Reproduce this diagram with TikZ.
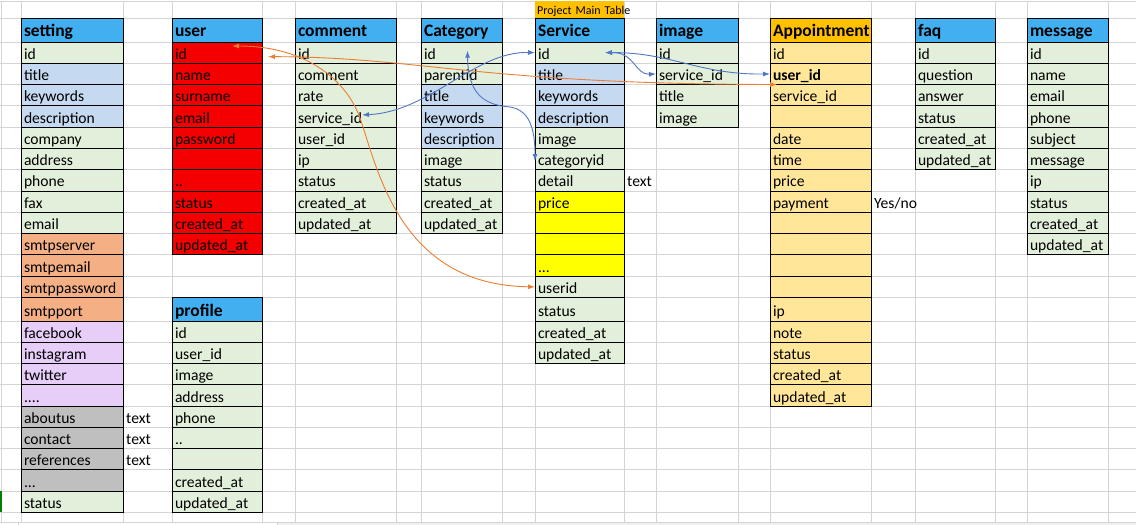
\documentclass[tikz,border=0pt]{standalone}
\usepackage{fontspec}
\setmainfont{Carlito}
\usetikzlibrary{arrows.meta, calc, positioning}

\definecolor{hdrblue}{RGB}{65,175,240}
\definecolor{apphead}{RGB}{255,192,0}
\definecolor{appfield}{RGB}{255,230,153}
\definecolor{fldgreen}{RGB}{226,239,218}
\definecolor{fldblue}{RGB}{197,217,240}
\definecolor{smtporange}{RGB}{244,176,132}
\definecolor{socialpurple}{RGB}{230,206,248}
\definecolor{aboutgray}{RGB}{191,191,191}
\definecolor{userred}{RGB}{245,0,0}
\definecolor{priceyellow}{RGB}{255,255,0}
\definecolor{gridgray}{RGB}{212,212,212}
\definecolor{linkorange}{RGB}{237,125,49}
\definecolor{linkblue}{RGB}{80,120,200}

\newcommand{\fieldfont}{\fontsize{15.6}{18}\selectfont}
\newcommand{\headfont}{\fontsize{17.5}{20}\selectfont\bfseries}
\newcommand{\twodots}{..}
\newcommand{\threedots}{...}
\newcommand{\fourdots}{....}
\hyphenpenalty=10000

% top edge of every sheet row (pixels)
\def\rowtop{{1,18,42,63.3,84.5,105.8,127,148.4,169.6,190.9,212.2,233.4,254.7,276,297.7,321.3,342.4,363.5,384.7,405.9,427.1,448.6,469.8,491,512.3,522.5}}

\tikzset{
  cell/.style={draw=black, line width=0.8pt, anchor=north west, inner xsep=3pt, inner ysep=0pt,
    outer sep=0pt, align=left, text height=16pt, text depth=2.6pt, font=\fieldfont},
  note/.style={font=\fieldfont, anchor=base west, inner sep=0pt},
  gridline/.style={gridgray, line width=0.8pt},
  link/.style={line width=0.9pt, <->, >={Latex[length=7pt,width=5pt]}}
}

% one table: prefix, left x, width, header row, header text, header colour, fields
\newcommand{\dbtable}[7]{%
  \pgfmathsetmacro{\tw}{#3-6}
  \pgfmathsetmacro{\yt}{\rowtop[#4]}
  \pgfmathtruncatemacro{\rn}{#4+1}
  \pgfmathsetmacro{\hh}{\rowtop[\rn]-\yt}
  \node[cell, font=\headfont, fill=#6, text width=\tw pt, minimum height=\hh pt] (#1-head) at (#2,\yt) {#5};
  \foreach \nm/\lb/\cl [count=\i] in {#7} {
    \pgfmathtruncatemacro{\r}{#4+\i}
    \pgfmathtruncatemacro{\rn}{\r+1}
    \pgfmathsetmacro{\yt}{\rowtop[\r]}
    \pgfmathsetmacro{\hh}{\rowtop[\rn]-\yt}
    \node[cell, fill=\cl, text width=\tw pt, minimum height=\hh pt] (#1-\nm) at (#2,\yt) {\lb};
  }}

\begin{document}
\begin{tikzpicture}[x=1pt,y=-1pt]
\useasboundingbox (0,0) rectangle (1136,525);
\fill[white] (0,0) rectangle (1136,525);

% Sheet grid
\foreach \gx in {1,21,123,172,262,295,396,421,502,535,624,656,738,770,871,915,995,1027,1108}
  \draw[gridline] (\gx,1) -- (\gx,522.5);
\foreach \r in {0,1,2,3,4,5,6,7,8,9,10,11,12,13,14,15,16,17,18,19,20,21,22,23,24,25} {
  \pgfmathsetmacro{\gy}{\rowtop[\r]}
  \draw[gridline] (0,\gy) -- (1136,\gy);
}
\fill[black!6] (277,522.5) rectangle (1136,525);
\draw[gridline] (18,522.5) rectangle (277,526);
\draw[green!50!black, line width=1.2pt] (1,491) -- (1,512.3);

% Tables
\dbtable{set}{21}{102}{1}{setting}{hdrblue}{id/id/fldgreen, title/title/fldblue, keywords/keywords/fldblue,
  description/description/fldblue, company/company/fldgreen, address/address/fldgreen, phone/phone/fldgreen,
  fax/fax/fldgreen, email/email/fldgreen, smtpserver/smtpserver/smtporange, smtpemail/smtpemail/smtporange,
  smtppassword/smtppassword/smtporange, smtpport/smtpport/smtporange, facebook/facebook/socialpurple,
  instagram/instagram/socialpurple, twitter/twitter/socialpurple, social/\fourdots/socialpurple,
  aboutus/aboutus/aboutgray, contact/contact/aboutgray, references/references/aboutgray,
  pages/\threedots/aboutgray, status/status/fldgreen}
\dbtable{user}{172}{90}{1}{user}{hdrblue}{id/id/userred, name/name/userred, surname/surname/userred,
  email/email/userred, password/password/userred, blank/{}/userred, more/\twodots/userred, status/status/userred,
  created/created\_at/userred, updated/updated\_at/userred}
\dbtable{prof}{172}{90}{14}{profile}{hdrblue}{id/id/fldgreen, userid/user\_id/fldgreen, image/image/fldgreen,
  address/address/fldgreen, phone/phone/fldgreen, more/\twodots/fldgreen, blank/{}/fldgreen,
  created/created\_at/fldgreen, updated/updated\_at/fldgreen}
\dbtable{comm}{295}{101}{1}{comment}{hdrblue}{id/id/fldgreen, comment/comment/fldgreen, rate/rate/fldgreen,
  serviceid/service\_id/fldgreen, userid/user\_id/fldgreen, ip/ip/fldgreen, status/status/fldgreen,
  created/created\_at/fldgreen, updated/updated\_at/fldgreen}
\dbtable{cat}{421}{81}{1}{Category}{hdrblue}{id/id/fldgreen, parentid/parentid/fldgreen, title/title/fldblue,
  keywords/keywords/fldblue, description/description/fldblue, image/image/fldgreen, status/status/fldgreen,
  created/created\_at/fldgreen, updated/updated\_at/fldgreen}
\dbtable{svc}{535}{89}{1}{Service}{hdrblue}{id/id/fldgreen, title/title/fldblue, keywords/keywords/fldblue,
  description/description/fldblue, image/image/fldgreen, categoryid/categoryid/fldgreen, detail/detail/fldgreen,
  price/price/priceyellow, blanka/{}/priceyellow, blankb/{}/priceyellow, more/\threedots/priceyellow,
  userid/userid/fldgreen, status/status/fldgreen, created/created\_at/fldgreen, updated/updated\_at/fldgreen}
\dbtable{img}{656}{82}{1}{image}{hdrblue}{id/id/fldgreen, serviceid/service\_id/fldgreen, title/title/fldgreen,
  image/image/fldgreen}
\dbtable{app}{770}{101}{1}{Appointment}{apphead}{id/id/appfield, userid/{\textbf{user\_id}}/appfield,
  serviceid/service\_id/appfield, blanka/{}/appfield, date/date/appfield, time/time/appfield, price/price/appfield,
  payment/payment/appfield, blankb/{}/appfield, blankc/{}/appfield, blankd/{}/appfield, blanke/{}/appfield,
  ip/ip/appfield, note/note/appfield, status/status/appfield, created/created\_at/appfield,
  updated/updated\_at/appfield}
\dbtable{faq}{915}{80}{1}{faq}{hdrblue}{id/id/fldgreen, question/question/fldgreen, answer/answer/fldgreen,
  status/status/fldgreen, created/created\_at/fldgreen, updated/updated\_at/fldgreen}
\dbtable{msg}{1027}{81}{1}{message}{hdrblue}{id/id/fldgreen, name/name/fldgreen, email/email/fldgreen,
  phone/phone/fldgreen, subject/subject/fldgreen, message/message/fldgreen, ip/ip/fldgreen,
  status/status/fldgreen, created/created\_at/fldgreen, updated/updated\_at/fldgreen}

% Caption over the main table
\node[fill=apphead, anchor=south west, minimum width=89pt, minimum height=16.5pt, text width=85pt,
  inner xsep=2pt, inner ysep=0pt, align=left, text height=10pt, text depth=0.5pt,
  font=\fontsize{12}{14}\selectfont] (svc-caption) at (svc-head.north west) {\mbox{Project Main Table}};

% Side notes
\node[note] (set-aboutus-type) at ($(set-aboutus.base east)+(3,0)$) {text};
\node[note] (set-contact-type) at ($(set-contact.base east)+(3,0)$) {text};
\node[note] (set-references-type) at ($(set-references.base east)+(3,0)$) {text};
\node[note] (svc-detail-type) at ($(svc-detail.base east)+(3,0)$) {text};
\node[note] (app-payment-type) at ($(app-payment.base east)+(3,0)$) {Yes/no};

% Orange links from user
\draw[link, linkorange] ($(user-id.north west)+(60,4)$) .. controls (310,46) and (348,84) .. (360,118)
  .. controls (378,170) and (400,285) .. (svc-userid.west);
\draw[link, linkorange] ($(user-id.east)+(6,4)$) .. controls (420,57) and (480,84) .. ($(app-userid.south west)+(7,0)$);

% Blue links around Service
\draw[link, linkblue] ($(comm-serviceid.east)+(-34,-1.5)$) .. controls (430,112) and (475,51) .. (svc-id.west);
\draw[link, linkblue] ($(cat-id.center)+(6,-2)$) .. controls (468,95) and (485,105) .. (510,107)
  .. controls (530,110) and (535,130) .. ($(svc-categoryid.west)+(0,2)$);
\draw[link, linkblue] ($(svc-id.east)+(-19,0)$) .. controls (635,52) and (635,75) .. (img-serviceid.west);
\draw[link, linkblue] ($(svc-id.east)+(-19,0)$) .. controls (670,52) and (700,75) .. (app-userid.west);

\end{tikzpicture}
\end{document}
